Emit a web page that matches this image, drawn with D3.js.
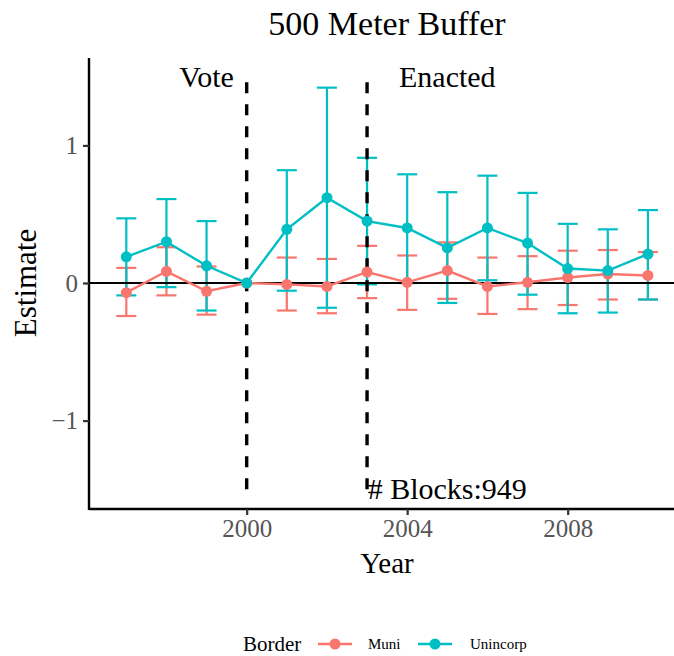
<!DOCTYPE html>
<meta charset="utf-8">
<head>
<script src="https://d3js.org/d3.v7.min.js"></script>
<style>
  body { margin: 0; background: #fff; }
  text { font-family: "Liberation Serif", "Times New Roman", serif; }
</style>
</head>
<body>
<svg id="chart" width="674" height="656"></svg>
<script>
// values
var years = [1997, 1998, 1999, 2000, 2001, 2002, 2003, 2004, 2005, 2006, 2007, 2008, 2009, 2010];
var muniEst = [-0.07, 0.085, -0.06, 0, -0.01, -0.025, 0.08, 0.005, 0.09, -0.025, 0.005, 0.04, 0.065, 0.055];
var muniHi  = [0.11, 0.26, 0.12, 0, 0.185, 0.175, 0.27, 0.20, 0.295, 0.185, 0.195, 0.235, 0.24, 0.225];
var muniLo  = [-0.24, -0.09, -0.23, 0, -0.20, -0.22, -0.11, -0.195, -0.115, -0.225, -0.19, -0.16, -0.12, -0.12];
var uninEst = [0.19, 0.30, 0.125, 0, 0.39, 0.62, 0.45, 0.40, 0.255, 0.40, 0.29, 0.105, 0.09, 0.21];
var uninHi  = [0.47, 0.61, 0.45, 0, 0.82, 1.42, 0.91, 0.79, 0.66, 0.78, 0.655, 0.43, 0.39, 0.53];
var uninLo  = [-0.09, -0.03, -0.20, 0, -0.056, -0.18, -0.01, 0.0, -0.145, 0.02, -0.085, -0.22, -0.215, -0.12];
var xTicks = [2000, 2004, 2008];
var yTicks = [-1, 0, 1];
var events = [{year: 2000, label: "Vote", at: 1999}, {year: 2003, label: "Enacted", at: 2005}];
var note = "# Blocks:949";

var series = [
  {name: "Muni", color: "#F8766D", est: muniEst, hi: muniHi, lo: muniLo},
  {name: "Unincorp", color: "#00BFC4", est: uninEst, hi: uninHi, lo: uninLo}
];

var svg = d3.select("#chart");
var x = d3.scaleLinear().domain([1996.07, 2010.65]).range([89, 674]);
var y = d3.scaleLinear().domain([-1.65, 1.65]).range([510, 56]);

// error bars
series.forEach(function(s) {
  var g = svg.append("g").attr("stroke", s.color).attr("stroke-width", 2.2).attr("fill", "none");
  years.forEach(function(yr, i) {
    if (s.hi[i] === s.lo[i]) return;
    g.append("line").attr("x1", x(yr)).attr("x2", x(yr)).attr("y1", y(s.lo[i])).attr("y2", y(s.hi[i]));
    g.append("line").attr("x1", x(yr) - 10).attr("x2", x(yr) + 10).attr("y1", y(s.lo[i])).attr("y2", y(s.lo[i]));
    g.append("line").attr("x1", x(yr) - 10).attr("x2", x(yr) + 10).attr("y1", y(s.hi[i])).attr("y2", y(s.hi[i]));
  });
});

// zero line
svg.append("line").attr("x1", 89).attr("x2", 674).attr("y1", y(0)).attr("y2", y(0))
  .attr("stroke", "#000").attr("stroke-width", 2.2);

// event lines
events.forEach(function(e) {
  svg.append("line").attr("x1", x(e.year)).attr("x2", x(e.year))
    .attr("y1", y(-1.5)).attr("y2", y(1.5))
    .attr("stroke", "#000").attr("stroke-width", 3.4).attr("stroke-dasharray", "11,11");
  svg.append("text").attr("x", x(e.at)).attr("y", y(1.5)).attr("dy", "0.33em")
    .attr("text-anchor", "middle").attr("font-size", 30).text(e.label);
});
svg.append("text").attr("x", x(2005)).attr("y", y(-1.5)).attr("dy", "0.33em")
  .attr("text-anchor", "middle").attr("font-size", 30).text(note);

// lines and points
series.forEach(function(s) {
  var pts = years.map(function(yr, i) { return [yr, s.est[i]]; });
  svg.append("path").datum(pts)
    .attr("d", d3.line().x(function(d) { return x(d[0]); }).y(function(d) { return y(d[1]); }))
    .attr("fill", "none").attr("stroke", s.color).attr("stroke-width", 2.4);
  svg.append("g").selectAll("circle").data(pts).enter().append("circle")
    .attr("cx", function(d) { return x(d[0]); }).attr("cy", function(d) { return y(d[1]); })
    .attr("r", 5.5).attr("fill", s.color);
});

// axes
var xAxis = svg.append("g").attr("transform", "translate(0,509)")
  .call(d3.axisBottom(x).tickValues(xTicks).tickFormat(d3.format("d")).tickSize(6).tickPadding(4));
var yAxis = svg.append("g").attr("transform", "translate(89,0)")
  .call(d3.axisLeft(y).tickValues(yTicks).tickFormat(function(d) { return d < 0 ? "\u2212" + Math.abs(d) : d; }).tickSize(6).tickPadding(5));
[xAxis, yAxis].forEach(function(a) {
  a.select(".domain").attr("stroke", "#000").attr("stroke-width", 2.4);
  a.selectAll(".tick line").attr("stroke", "#333").attr("stroke-width", 2.2);
  a.selectAll(".tick text").attr("fill", "#555").attr("font-size", 25)
    .attr("font-family", "Liberation Serif");
});
xAxis.select(".domain").attr("d", "M89,0H674");
yAxis.select(".domain").attr("d", "M0,58V510");

// titles
svg.append("text").attr("x", 387).attr("y", 35).attr("text-anchor", "middle")
  .attr("font-size", 34).text("500 Meter Buffer");
svg.append("text").attr("x", 387).attr("y", 573).attr("text-anchor", "middle")
  .attr("font-size", 29).text("Year");
svg.append("text").attr("transform", "translate(36,283) rotate(-90)").attr("text-anchor", "middle")
  .attr("font-size", 31).text("Estimate");

// legend
var leg = svg.append("g").attr("transform", "translate(0,644)");
leg.append("text").attr("x", 243).attr("y", 7).attr("font-size", 21).text("Border");
var keyX = [318, 418], labX = [368, 470];
series.forEach(function(s, i) {
  leg.append("line").attr("x1", keyX[i]).attr("x2", keyX[i] + 34).attr("y1", 0).attr("y2", 0)
    .attr("stroke", s.color).attr("stroke-width", 2.4);
  leg.append("circle").attr("cx", keyX[i] + 17).attr("cy", 0).attr("r", 5.5).attr("fill", s.color);
  leg.append("text").attr("x", labX[i]).attr("y", 5).attr("font-size", 15).text(s.name);
});
</script>
</body>
